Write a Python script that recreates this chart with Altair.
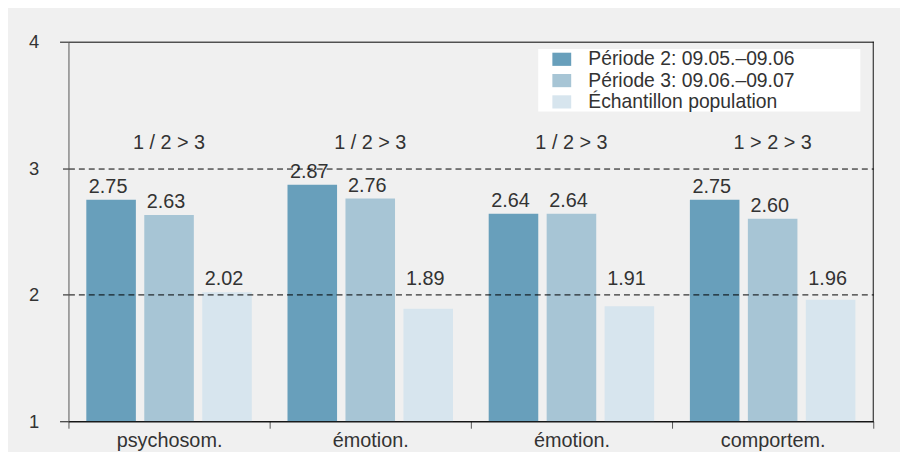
import json
import altair as alt
import pandas as pd

categories = ["psychosom.", "émotion.", "émotion.", "comportem."]
series = ["Période 2: 09.05.–09.06", "Période 3: 09.06.–09.07", "Échantillon population"]
periode2 = [2.75, 2.87, 2.64, 2.75]
periode3 = [2.63, 2.76, 2.64, 2.60]
population = [2.02, 1.89, 1.91, 1.96]
comparisons = ["1 / 2 > 3", "1 / 2 > 3", "1 / 2 > 3", "1 > 2 > 3"]
colors = ["#689fbb", "#a7c5d5", "#d7e5ee"]

rows = []
for i, cat in enumerate(categories):
    for s, vals in zip(series, [periode2, periode3, population]):
        rows.append({"idx": i, "series": s, "value": vals[i]})
df = pd.DataFrame(rows)
df_comp = pd.DataFrame({"idx": list(range(len(categories))), "comp": comparisons})

FONT = "Liberation Sans"
TXT = "#333333"
FS = 20
W, H = 812, 383

label_expr = json.dumps(categories, ensure_ascii=False) + "[datum.value]"

x_enc = alt.X(
    "idx:O",
    scale=alt.Scale(paddingInner=0, paddingOuter=0),
    axis=alt.Axis(
        title=None, labelExpr=label_expr, tickBand="extent", tickSize=7,
        tickColor="#555555", domainColor="#111111", labelPadding=2,
        labelFontSize=FS, labelAngle=0, labelColor=TXT, labelFont=FONT,
    ),
)
xoff_enc = alt.XOffset("series:N", sort=series,
                       scale=alt.Scale(paddingInner=0.145, paddingOuter=0.308))
y_scale = alt.Scale(domain=[1, 4], nice=False, zero=False)

bars = alt.Chart(df).mark_bar().encode(
    x=x_enc,
    xOffset=xoff_enc,
    y=alt.Y(
        "value:Q", scale=y_scale,
        axis=alt.Axis(
            title=None, values=[1, 2, 3, 4], format="d", tickSize=9, grid=True,
            gridColor="#000000", gridOpacity=1, tickColor="#111111", domainColor="#555555",
            gridDash={"condition": {"test": "datum.value == 4 || datum.value == 1", "value": []}, "value": [6, 4]},
            tickDash={"condition": {"test": "datum.value == 4 || datum.value == 1", "value": []}, "value": [6, 4]},
            labelPadding=21, labelFontSize=18.5, labelColor=TXT, labelFont=FONT,
            zindex=1,
        ),
    ),
    y2=alt.datum(1),
    color=alt.Color(
        "series:N", sort=series,
        scale=alt.Scale(domain=series, range=colors),
        legend=alt.Legend(
            title=None, orient="none", legendX=488, legendY=8,
            symbolType="M-1,-0.7L1,-0.7L1,0.7L-1,0.7Z", symbolSize=361,
            symbolStrokeWidth=0, labelFontSize=19.5, labelFont=FONT,
            labelColor=TXT, labelOffset=17, rowPadding=0.5, padding=0,
            labelLimit=0,
        ),
    ),
)

value_labels = alt.Chart(df).transform_calculate(
    label_y="max(datum.value, 2.02)"
).mark_text(
    baseline="bottom", dy=-3, dx=-3, fontSize=FS, font=FONT, color=TXT
).encode(
    x=x_enc, xOffset=xoff_enc,
    y=alt.Y("label_y:Q", scale=y_scale),
    text=alt.Text("value:Q", format=".2f"),
)

comp_text = alt.Chart(df_comp).mark_text(
    baseline="middle", fontSize=FS, font=FONT, color=TXT
).encode(
    x=alt.X("idx:O"),
    y=alt.datum(3.2),
    text="comp:N",
)

one = alt.Data(values=[{"a": 0}])
legend_bg = alt.Chart(one).mark_rect(color="white").encode(
    x=alt.value(474), x2=alt.value(799), y=alt.value(7.5), y2=alt.value(70.5)
)
right_border = alt.Chart(one).mark_rule(color="#111111").encode(
    x=alt.value(W), y=alt.value(0), y2=alt.value(H)
)

chart = alt.layer(legend_bg, bars, value_labels, comp_text, right_border).properties(
    width=W, height=H,
    autosize="none",
    padding={"left": 61, "top": 32, "right": 27, "bottom": 29},
    background="#f0f0f0",
).configure_view(stroke=None)

chart.save("out.html", embed_options={"renderer": "svg", "actions": False})
